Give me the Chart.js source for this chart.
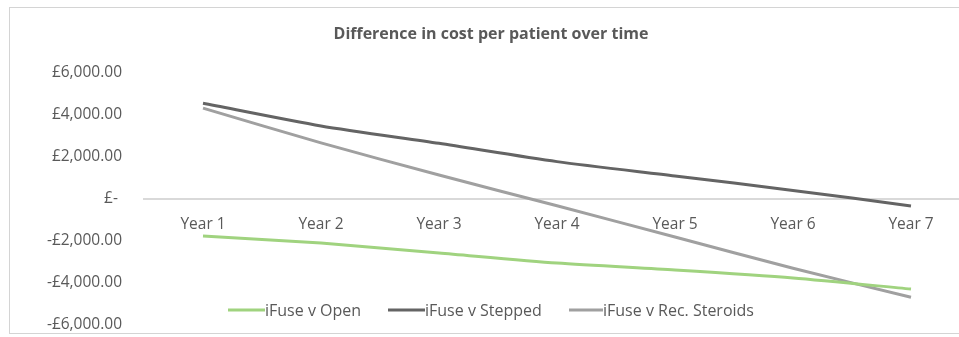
<!DOCTYPE html>
<html>
<head>
<meta charset="utf-8">
<script src="https://cdn.jsdelivr.net/npm/chart.js@4.4.1/dist/chart.umd.min.js"></script>
<style>
  html, body { margin: 0; padding: 0; background: #fff; overflow: hidden; }
  #wrap { position: relative; width: 985px; height: 337px; }
  #frame { position: absolute; left: 9px; top: 7px; width: 1000px; height: 327px;
           border: 1px solid #d4d4d4; border-right: none; box-sizing: border-box; pointer-events: none; }
  canvas { position: absolute; left: 0; top: 0; }
</style>
</head>
<body>
<div id="wrap">
  <canvas id="c"></canvas>
  <div id="frame"></div>
</div>
<script>
// Cost difference per patient (GBP), by year
const years = ['Year 1', 'Year 2', 'Year 3', 'Year 4', 'Year 5', 'Year 6', 'Year 7'];
const vsOpen = [-1760, -2100, -2570, -3050, -3380, -3760, -4290];
const vsStepped = [4560, 3480, 2650, 1780, 1100, 410, -330];
const vsSteroids = [4330, 2670, 1140, -320, -1810, -3300, -4680];
const seriesNames = ['iFuse v Open', 'iFuse v Stepped', 'iFuse v Rec. Steroids'];
const yTicks = [-6000, -4000, -2000, 0, 2000, 4000, 6000];
const chartTitle = 'Difference in cost per patient over time';

const textColor = '#595959';
const fontFamily = '"Open Sans", "Noto Sans", sans-serif';

function gbp(v) {
  if (v === 0) return '£- ';
  const s = '£' + Math.abs(v).toLocaleString('en-GB', { minimumFractionDigits: 2, maximumFractionDigits: 2 });
  return v < 0 ? '-' + s : s;
}

// Title and in-plot legend drawn on top of the chart
const overlay = {
  id: 'overlay',
  afterDraw(chart) {
    const ctx = chart.ctx;
    ctx.save();
    ctx.fillStyle = textColor;
    ctx.font = 'bold 16px ' + fontFamily;
    ctx.textAlign = 'center';
    ctx.textBaseline = 'middle';
    ctx.fillText(chartTitle, 491, 34);

    const legendLine = [[228, 265], [388, 425], [569, 603]];
    const legendY = 310;
    ctx.font = '16px ' + fontFamily;
    ctx.textAlign = 'left';
    chart.data.datasets.forEach((ds, i) => {
      const [x0, x1] = legendLine[i];
      ctx.strokeStyle = ds.borderColor;
      ctx.lineWidth = 3;
      ctx.beginPath();
      ctx.moveTo(x0, legendY);
      ctx.lineTo(x1, legendY);
      ctx.stroke();
      ctx.fillStyle = textColor;
      ctx.fillText(ds.label, x1, legendY + 1);
    });
    ctx.restore();
  }
};

new Chart(document.getElementById('c'), {
  type: 'line',
  data: {
    labels: years,
    datasets: [
      { label: seriesNames[0], data: vsOpen, borderColor: '#a0d37f' },
      { label: seriesNames[1], data: vsStepped, borderColor: '#646464' },
      { label: seriesNames[2], data: vsSteroids, borderColor: '#a0a0a0' }
    ].map(d => Object.assign(d, { borderWidth: 3, pointRadius: 0, tension: 0.25, fill: false, borderCapStyle: 'butt' }))
  },
  options: {
    responsive: true,
    maintainAspectRatio: false,
    animation: false,
    layout: { padding: { top: 73, bottom: 12, left: 0, right: 15 } },
    plugins: { legend: { display: false }, title: { display: false }, tooltip: { enabled: false } },
    scales: {
      x: {
        type: 'category',
        offset: true,
        position: { y: 0 },
        afterFit(scale) { scale.height = 0; },
        grid: { display: false, drawTicks: false, offset: true },
        border: { display: true, color: '#d9d9d9', width: 2 },
        ticks: { color: textColor, font: { family: fontFamily, size: 15.5 }, padding: 16, maxRotation: 0, autoSkip: false }
      },
      y: {
        min: -6000,
        max: 6000,
        afterFit(scale) {
          scale.width = 144;
          // labels may overhang the plot edges; keep the plot height fixed
          scale.paddingTop = 0;
          scale.paddingBottom = 0;
        },
        afterBuildTicks(scale) { scale.ticks = yTicks.map(v => ({ value: v })); },
        grid: { display: false, drawTicks: false },
        border: { display: false },
        ticks: { color: textColor, font: { family: fontFamily, size: 15.5 }, padding: 22, callback: v => gbp(v) }
      }
    }
  },
  plugins: [overlay]
});
</script>
</body>
</html>
